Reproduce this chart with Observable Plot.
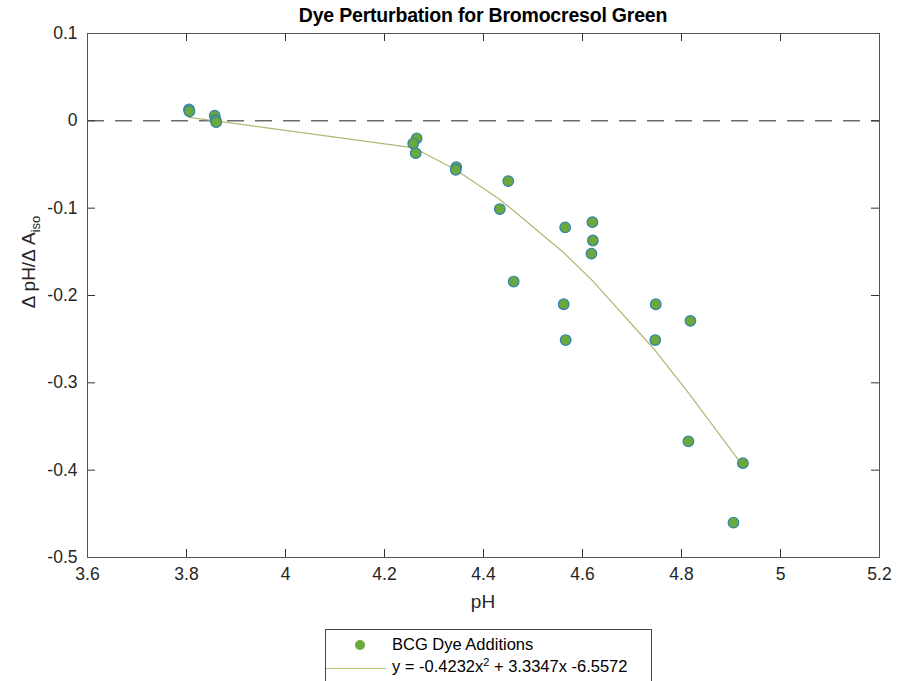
<!DOCTYPE html>
<html><head><meta charset="utf-8">
<script src="https://cdn.jsdelivr.net/npm/d3@7"></script>
<script src="https://cdn.jsdelivr.net/npm/@observablehq/plot@0.6"></script>
<style>
html,body{margin:0;padding:0;background:#fff;}
body{overflow:hidden;width:898px;height:681px;position:relative;font-family:"Liberation Sans",Arial,sans-serif;color:#262626;}
#chart{position:absolute;left:0;top:0;}
.title{position:absolute;left:87px;width:792px;top:4px;text-align:center;font-weight:bold;font-size:19.5px;color:#000;white-space:nowrap;letter-spacing:-0.2px;}
.xlabel{position:absolute;left:87px;width:792px;top:591px;text-align:center;font-size:19px;white-space:nowrap;}
.ylabel{position:absolute;left:30px;top:262px;transform:translate(-50%,-50%) rotate(-90deg);font-size:19px;white-space:nowrap;}
.ylabel sub{font-size:13px;vertical-align:-5px;}
.legend{position:absolute;left:325px;top:629px;width:327px;height:80px;border:1px solid #444;background:#fff;box-sizing:border-box;}
.legend .row{position:absolute;left:0;white-space:nowrap;font-size:16.5px;color:#000;}
.legend .dot{position:absolute;width:10px;height:10px;border-radius:50%;background:#6aa93a;}
.legend .ln{position:absolute;height:0;border-top:1.2px solid #b6c46e;}
.legend sup{font-size:11px;vertical-align:6px;line-height:0;}
</style>
</head><body>
<div id="chart"></div>
<div class="title">Dye Perturbation for Bromocresol Green</div>
<div class="ylabel">&Delta; pH/&Delta; A<sub>iso</sub></div>
<div class="xlabel">pH</div>
<div class="legend">
  <div class="dot" style="left:29px;top:10px;"></div>
  <div class="row" style="left:66px;top:5px;">BCG Dye Additions</div>
  <div class="ln" style="left:0px;width:60px;top:38px;"></div>
  <div class="row" style="left:66px;top:27px;">y = -0.4232x<sup>2</sup> + 3.3347x -6.5572</div>
</div>
<script>
// Measured data (pH, ΔpH/ΔA_iso)
const phValues = [3.805, 3.806, 3.857, 3.859, 3.860, 4.265, 4.258, 4.263, 4.345, 4.344,
                  4.450, 4.433, 4.461, 4.565, 4.562, 4.566, 4.620, 4.621, 4.618,
                  4.748, 4.747, 4.818, 4.814, 4.924, 4.905];
const dpValues = [0.013, 0.011, 0.006, 0.001, -0.0015, -0.020, -0.026, -0.037, -0.053, -0.056,
                  -0.069, -0.101, -0.184, -0.122, -0.210, -0.251, -0.116, -0.137, -0.152,
                  -0.210, -0.251, -0.229, -0.367, -0.392, -0.460];
// Fit curve
const fitX = [3.805, 3.858, 4.26, 4.344, 4.433, 4.45, 4.461, 4.564, 4.62, 4.747, 4.816, 4.924];
const fitY = [0.004, 0.000, -0.031, -0.056, -0.090, -0.098, -0.103, -0.152, -0.183, -0.263, -0.313, -0.395];
const xTicks = [3.6, 3.8, 4.0, 4.2, 4.4, 4.6, 4.8, 5.0, 5.2];
const yTicks = [0.1, 0, -0.1, -0.2, -0.3, -0.4, -0.5];

const points = phValues.map((x, i) => ({x, y: dpValues[i]}));
const fit = fitX.map((x, i) => ({x, y: fitY[i]}));
const fmt = d => String(+d.toFixed(1));

const W = 898, H = 681, mT = 33, mB = 124, mL = 87, mR = 19;
const fw = W - mL - mR, fh = H - mT - mB, tk = 8;

const chart = Plot.plot({
  width: W, height: H,
  marginTop: mT, marginBottom: mB, marginLeft: mL, marginRight: mR,
  style: {fontFamily: "'Liberation Sans', Arial, sans-serif", fontSize: "17.5px", color: "#262626", background: "#fff"},
  x: {domain: [3.6, 5.2]},
  y: {domain: [-0.5, 0.1]},
  marks: [
    Plot.ruleY([0], {stroke: "#222", strokeWidth: 1, strokeDasharray: "17,11"}),
    Plot.tickX(xTicks, {x: d => d, stroke: "#333", insetTop: fh - tk}),
    Plot.tickX(xTicks, {x: d => d, stroke: "#333", insetBottom: fh - tk}),
    Plot.tickY(yTicks, {y: d => d, stroke: "#333", insetRight: fw - tk}),
    Plot.tickY(yTicks, {y: d => d, stroke: "#333", insetLeft: fw - tk}),
    Plot.axisX(xTicks, {tickSize: 0, tickPadding: 10, tickFormat: fmt, label: null, fill: "#262626"}),
    Plot.axisY(yTicks, {tickSize: 0, tickPadding: 10, tickFormat: fmt, label: null, fill: "#262626"}),
    Plot.frame({stroke: "#555", strokeWidth: 1}),
    Plot.line(fit, {x: "x", y: "y", stroke: "#b0b872", strokeWidth: 1.2}),
    Plot.dot(points, {x: "x", y: "y", r: 5.3, fill: "#6aa93a", stroke: "#3182b0", strokeWidth: 1.2})
  ]
});
document.getElementById("chart").appendChild(chart);
</script>
</body></html>
